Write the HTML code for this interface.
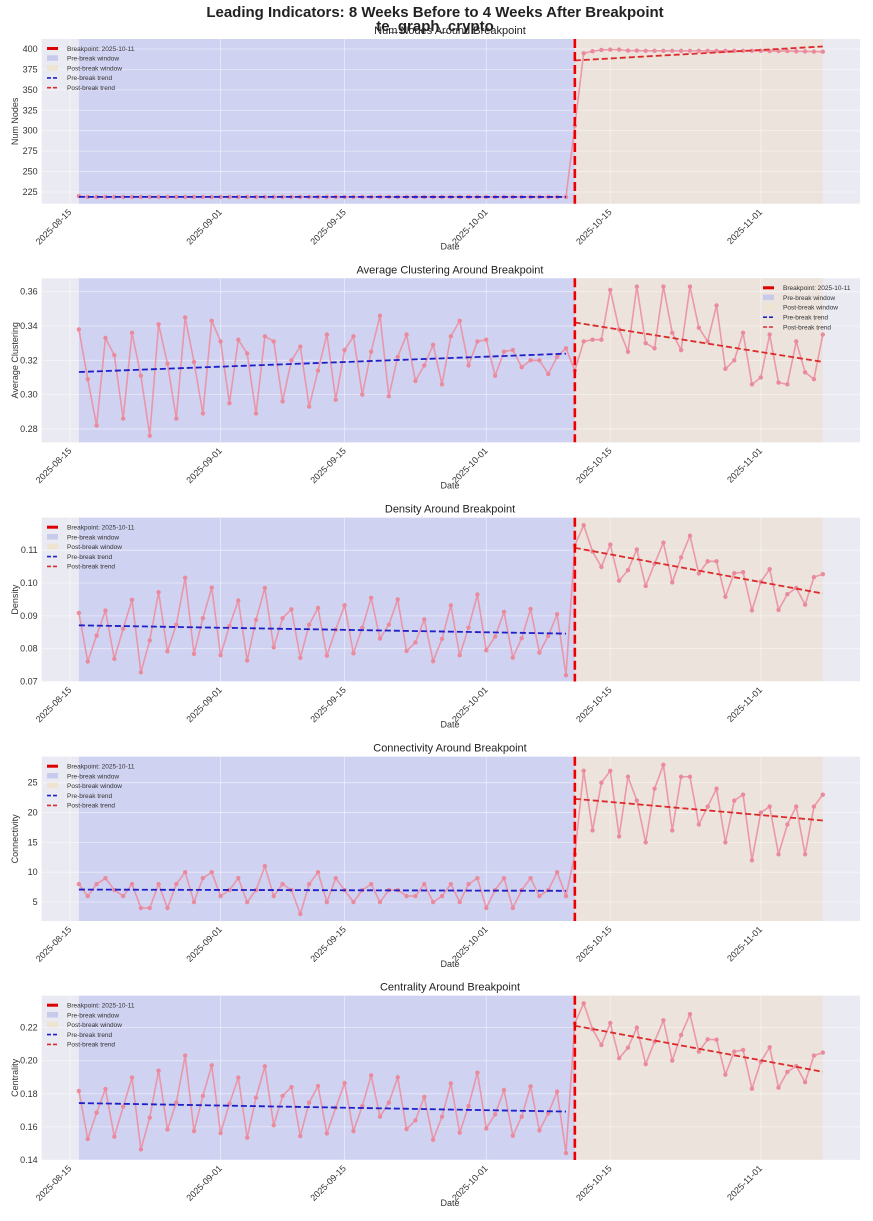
<!DOCTYPE html>
<html><head><meta charset="utf-8"><style>
html,body{margin:0;padding:0;background:#fff;}
svg{display:block;font-family:"Liberation Sans",Arial,sans-serif;}
</style></head><body>
<svg id="chart" width="873" height="1221" viewBox="0 0 873 1221" xmlns="http://www.w3.org/2000/svg">
<text x="435" y="17" text-anchor="middle" font-size="15" font-weight="bold" fill="#222">Leading Indicators: 8 Weeks Before to 4 Weeks After Breakpoint</text>
<text x="435" y="31" text-anchor="middle" font-size="15" font-weight="bold" fill="#222">te_graph_crypto</text>
</svg>
<script>
// day offsets from 2025-08-15; data points run from day 1 to day 85
const breakDay = 57;
const firstDay = 1;
const tickDays = [0, 17, 31, 47, 61, 78];
const tickLabels = ["2025-08-15","2025-09-01","2025-09-15","2025-10-01","2025-10-15","2025-11-01"];
const legendLabels = ["Breakpoint: 2025-10-11","Pre-break window","Post-break window","Pre-break trend","Post-break trend"];

const numNodes = [220,219,219,219,219,219,219,219,219,219,219,219,219,219,219,219,219,219,219,219,219,219,219,219,219,219,219,219,219,219,219,219,219,219,219,219,219,219,219,219,219,219,219,219,219,219,219,219,219,219,219,219,219,219,219,219,
306,394.7,397.2,398.8,399.2,399.2,398,398,397.8,397.8,397.8,397.8,397.8,397.8,397.8,397.8,397.8,397.8,397.8,397.8,397.8,397.8,397.5,397.5,397.5,397.2,397,396.8,396.7];
const avgClustering = [0.338,0.309,0.282,0.333,0.323,0.286,0.336,0.311,0.276,0.341,0.318,0.286,0.345,0.319,0.289,0.343,0.331,0.295,0.332,0.324,0.289,0.334,0.331,0.296,0.320,0.328,0.293,0.314,0.335,0.297,0.326,0.334,0.300,0.325,0.346,0.299,0.322,0.335,0.308,0.317,0.329,0.306,0.334,0.343,0.317,0.331,0.332,0.311,0.325,0.326,0.316,0.320,0.320,0.312,0.322,0.327,
0.314,0.331,0.332,0.332,0.361,0.338,0.325,0.363,0.330,0.327,0.363,0.336,0.326,0.363,0.339,0.331,0.352,0.315,0.320,0.336,0.306,0.310,0.335,0.307,0.306,0.331,0.313,0.309,0.335];
const density = [0.0909,0.0761,0.0840,0.0916,0.0769,0.0861,0.0949,0.0728,0.0825,0.0972,0.0792,0.0873,0.1016,0.0784,0.0893,0.0986,0.0780,0.0869,0.0947,0.0764,0.0888,0.0985,0.0804,0.0893,0.0920,0.0772,0.0873,0.0924,0.0779,0.0858,0.0932,0.0786,0.0864,0.0955,0.0831,0.0873,0.0950,0.0793,0.0819,0.0889,0.0762,0.0830,0.0932,0.0780,0.0864,0.0965,0.0795,0.0837,0.0912,0.0773,0.0832,0.0921,0.0788,0.0839,0.0905,0.0719,
0.1115,0.1176,0.1096,0.1049,0.1117,0.1007,0.1039,0.1102,0.0991,0.1059,0.1123,0.1002,0.1078,0.1144,0.1029,0.1066,0.1066,0.0958,0.1030,0.1033,0.0917,0.1004,0.1042,0.0918,0.0966,0.0985,0.0934,0.1018,0.1027];
const connectivity = [8,6,8,9,7,6,8,4,4,8,4,8,10,5,9,10,6,7,9,5,7,11,6,8,7,3,8,10,5,9,7,5,7,8,5,7,7,6,6,8,5,6,8,5,8,9,4,7,9,4,7,9,6,7,10,6,
13,27,17,25,27,16,26,22,15,24,28,17,26,26,18,21,24,15,22,23,12,20,21,13,18,21,13,21,23];
const centrality = [0.1817,0.1527,0.1686,0.1829,0.1541,0.1722,0.1898,0.1464,0.1656,0.1940,0.1585,0.1747,0.2031,0.1575,0.1787,0.1972,0.1563,0.1741,0.1898,0.1535,0.1777,0.1966,0.1610,0.1787,0.1841,0.1545,0.1747,0.1847,0.1561,0.1716,0.1865,0.1575,0.1726,0.1912,0.1662,0.1747,0.1900,0.1587,0.1640,0.1781,0.1523,0.1662,0.1863,0.1565,0.1726,0.1928,0.1591,0.1676,0.1823,0.1547,0.1662,0.1845,0.1579,0.1682,0.1813,0.1442,
0.2226,0.2347,0.2190,0.2095,0.2228,0.2015,0.2079,0.2200,0.1980,0.2115,0.2244,0.2001,0.2156,0.2281,0.2055,0.2129,0.2127,0.1916,0.2055,0.2065,0.1831,0.1994,0.2081,0.1837,0.1932,0.1968,0.1870,0.2031,0.2049];

const yTicksNodes = [225,250,275,300,325,350,375,400];
const yTicksClust = [0.28,0.30,0.32,0.34,0.36];
const yTicksDens = [0.07,0.08,0.09,0.10,0.11];
const yTicksConn = [5,10,15,20,25];
const yTicksCent = [0.14,0.16,0.18,0.20,0.22];

const NS = "http://www.w3.org/2000/svg";
const svg = document.getElementById('chart');
const L = 41.7, R = 860;
const xMin = -3.2, xMax = 89.2;
function xs(d){ return L + (d - xMin) / (xMax - xMin) * (R - L); }
function mk(tag, attrs, parent){
  const e = document.createElementNS(NS, tag);
  for (const k in attrs) e.setAttribute(k, attrs[k]);
  (parent || svg).appendChild(e);
  return e;
}
function fit(days, vals){
  const n = days.length; let sx=0, sy=0, sxx=0, sxy=0;
  for (let i=0;i<n;i++){ sx+=days[i]; sy+=vals[i]; sxx+=days[i]*days[i]; sxy+=days[i]*vals[i]; }
  const m = (n*sxy - sx*sy) / (n*sxx - sx*sx);
  return [m, (sy - m*sx)/n];
}

const panels = [
  {key:'num-nodes', data:numNodes, top:39, bottom:203.7, ymin:210.7, ymax:412.2, ticks:yTicksNodes, dec:0, ylabel:'Num Nodes', title:'Num Nodes Around Breakpoint', legend:'left'},
  {key:'avg-clustering', data:avgClustering, top:278.3, bottom:442.3, ymin:0.2722, ymax:0.3678, ticks:yTicksClust, dec:2, ylabel:'Average Clustering', title:'Average Clustering Around Breakpoint', legend:'right'},
  {key:'density', data:density, top:517.7, bottom:681.5, ymin:0.07, ymax:0.1199, ticks:yTicksDens, dec:2, ylabel:'Density', title:'Density Around Breakpoint', legend:'left'},
  {key:'connectivity', data:connectivity, top:756.7, bottom:921, ymin:1.82, ymax:29.36, ticks:yTicksConn, dec:0, ylabel:'Connectivity', title:'Connectivity Around Breakpoint', legend:'left'},
  {key:'centrality', data:centrality, top:995.7, bottom:1160, ymin:0.14, ymax:0.2393, ticks:yTicksCent, dec:2, ylabel:'Centrality', title:'Centrality Around Breakpoint', legend:'left'}
];

panels.forEach(p => {
  const g = mk('g', {});
  
  
  const ys = v => p.bottom - (v - p.ymin) / (p.ymax - p.ymin) * (p.bottom - p.top);
  const bg = mk('rect', {x:L, y:p.top, width:R-L, height:p.bottom-p.top, fill:'#eaeaf2'}, g);
  
  
  const lastDay = firstDay + p.data.length - 1;
  const pre = mk('rect', {x:xs(firstDay), y:p.top, width:xs(breakDay)-xs(firstDay), height:p.bottom-p.top, fill:'#d0d2f1'}, g);
  
  
  const post = mk('rect', {x:xs(breakDay), y:p.top, width:xs(lastDay)-xs(breakDay), height:p.bottom-p.top, fill:'#ece3dc'}, g);
  
  
  p.ticks.forEach(t => {
    const yy = ys(t);
    mk('line', {x1:L, x2:R, y1:yy, y2:yy, stroke:'#ffffff', 'stroke-opacity':0.55, 'stroke-width':0.8}, g);
    const tl = mk('text', {x:L-4, y:yy+3, 'text-anchor':'end', 'font-size':9, fill:'#333'}, g);
    
    
    tl.textContent = t.toFixed(p.dec);
  });
  tickDays.forEach((d, i) => {
    const xx = xs(d);
    mk('line', {x1:xx, x2:xx, y1:p.top, y2:p.bottom, stroke:'#ffffff', 'stroke-opacity':0.55, 'stroke-width':0.8}, g);
    const tl = mk('text', {x:0, y:0, 'text-anchor':'end', 'font-size':9, fill:'#333', transform:`translate(${xx+2},${p.bottom+9}) rotate(-45)`}, g);
    
    
    tl.textContent = tickLabels[i];
  });
  let dstr = '';
  p.data.forEach((v, i) => { dstr += (i ? 'L' : 'M') + xs(firstDay+i).toFixed(2) + ',' + ys(v).toFixed(2); });
  const ln = mk('path', {d:dstr, fill:'none', stroke:'#ec8fa2', 'stroke-width':1.6, 'stroke-opacity':0.9}, g);
  
  
  p.data.forEach((v, i) => {
    const c = mk('circle', {cx:xs(firstDay+i), cy:ys(v), r:2.2, fill:'#e98b9c'}, g);
    
    
  });
  const preD=[], preV=[], postD=[], postV=[];
  p.data.forEach((v, i) => { const d = firstDay+i; if (d < breakDay){preD.push(d);preV.push(v);} else {postD.push(d);postV.push(v);} });
  const [m1,b1] = fit(preD, preV), [m2,b2] = fit(postD, postV);
  const d0=preD[0], d1=preD[preD.length-1], e0=postD[0], e1=postD[postD.length-1];
  const tp = mk('line', {x1:xs(d0), y1:ys(m1*d0+b1), x2:xs(d1), y2:ys(m1*d1+b1), stroke:'#2020c8', 'stroke-width':1.8, 'stroke-dasharray':'6,3'}, g);
  
  
  const tq = mk('line', {x1:xs(e0), y1:ys(m2*e0+b2), x2:xs(e1), y2:ys(m2*e1+b2), stroke:'#dd2a2a', 'stroke-width':1.8, 'stroke-dasharray':'6,3'}, g);
  
  
  const bl = mk('line', {x1:xs(breakDay), x2:xs(breakDay), y1:p.top, y2:p.bottom, stroke:'#ee0000', 'stroke-width':2.6, 'stroke-dasharray':'9,4'}, g);
  
  
  const tt = mk('text', {x:450, y:p.top-5, 'text-anchor':'middle', 'font-size':11, fill:'#222'}, g);
  
  
  tt.textContent = p.title;
  const xl = mk('text', {x:450, y:p.bottom+46, 'text-anchor':'middle', 'font-size':9, fill:'#333'}, g);
  
  
  xl.textContent = 'Date';
  const cy = (p.top+p.bottom)/2;
  const yl = mk('text', {x:0, y:0, 'text-anchor':'middle', 'font-size':9, fill:'#333', transform:`translate(18,${cy}) rotate(-90)`}, g);
  
  
  yl.textContent = p.ylabel;
  const lx = p.legend === 'left' ? 47 : 763;
  const ly0 = p.top + 9.5;
  const styles = [
    {stroke:'#dd0000', w:3, dash:''},
    {rect:'#c8caec'},
    {rect:'#efe4d2'},
    {stroke:'#2020c8', w:1.6, dash:'4,2'},
    {stroke:'#dd2a2a', w:1.6, dash:'4,2'}
  ];
  legendLabels.forEach((lab, i) => {
    const yy = ly0 + i*9.8;
    const s = styles[i];
    if (s.rect) mk('rect', {x:lx, y:yy-3, width:11, height:5.5, fill:s.rect}, g);
    else mk('line', {x1:lx, x2:lx+11, y1:yy, y2:yy, stroke:s.stroke, 'stroke-width':s.w, 'stroke-dasharray':s.dash}, g);
    const t = mk('text', {x:lx+20, y:yy+2.3, 'font-size':6.5, fill:'#333'}, g);
    
    
    t.textContent = lab;
  });
});
</script>
</body></html>
